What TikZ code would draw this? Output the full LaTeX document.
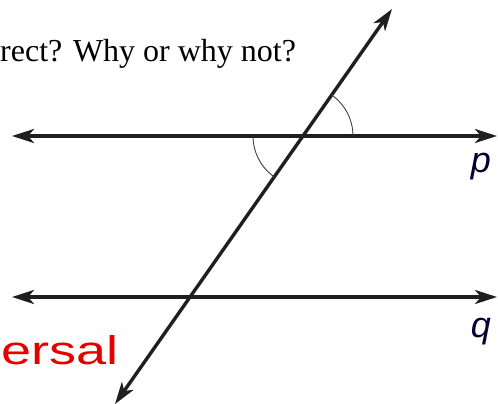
\documentclass[tikz,border=0pt]{standalone}
\usepackage{fontspec}
\setmainfont{Liberation Serif}
\newfontfamily\labelfont{Liberation Sans}
\usetikzlibrary{arrows.meta}
\begin{document}
\begin{tikzpicture}[x=1pt,y=-1pt,
  lineline/.style={line width=3.4pt, draw=black!88, {Stealth[length=22pt,width=14pt,inset=6pt]}-{Stealth[length=22pt,width=14pt,inset=6pt]}},
  anglearc/.style={line width=0.9pt, draw=black!75},
  varlabel/.style={font=\labelfont\itshape\fontsize{36}{36}\selectfont, text=black!80!blue, inner sep=0pt},
  question/.style={font=\fontsize{32}{32}\selectfont, inner sep=0pt, anchor=base west},
  ink/.style={font=\labelfont\fontsize{40}{40}\selectfont, text=red!90!black, inner sep=0pt}
]
\useasboundingbox (0,0) rectangle (498,404);
\node[question] (qtext) at (0,61.7) {rect? Why or why not?};
\coordinate (pL) at (12,136);
\coordinate (pR) at (497,136);
\coordinate (qL) at (12,297);
\coordinate (qR) at (497,297);
\coordinate (tB) at (115,404);
\coordinate (tT) at (392,9);
\coordinate (X1) at (303,136);
\coordinate (X2) at (190,297);
\draw[lineline] (pL) -- (pR);
\draw[lineline] (qL) -- (qR);
\draw[lineline] (tB) -- (tT);
\draw[anglearc] ([xshift=50pt]X1) arc[start angle=0,end angle=55,radius=50pt];
\draw[anglearc] ([xshift=-50pt]X1) arc[start angle=180,end angle=235,radius=50pt];
\node[varlabel] (plab) at (481,167) {p};
\node[varlabel] (qlab) at (481,332) {q};
\node[ink, anchor=west, xscale=1.35] (inkt) at (1,350) {ersal};
\end{tikzpicture}
\end{document}
